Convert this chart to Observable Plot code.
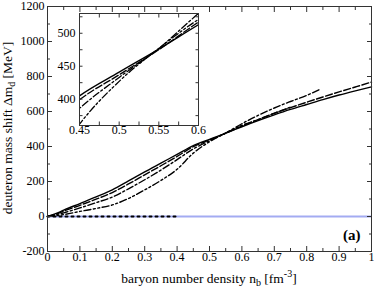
<!DOCTYPE html>
<html><head><meta charset="utf-8">
<script src="https://cdn.jsdelivr.net/npm/d3@7"></script>
<script src="https://cdn.jsdelivr.net/npm/@observablehq/plot@0.6"></script>
<style>
body{margin:0;background:#fff;}
#wrap{position:relative;width:374px;height:288px;}
#wrap svg{overflow:visible;}
#inset{position:absolute;left:50px;top:8px;}
</style></head><body><div id="wrap"><div id="main"></div><div id="inset"></div></div>
<script>
// ---- data ----
const nbSolid = [0,0.025,0.05,0.1,0.15,0.2,0.25,0.3,0.35,0.4,0.45,0.5,0.55,0.6,0.65,0.7,0.75,0.8,0.85,0.9,0.95,1.0];
const shiftSolid = [0,16,36,74,112,152,203,255,305,355,405,441,476,513,548,581,612,640,668,694,718,741];
const nbDashed = [0,0.025,0.05,0.1,0.15,0.2,0.25,0.3,0.35,0.4,0.45,0.5,0.55,0.6,0.65,0.7,0.75,0.8,0.85,0.9,0.95,1.0];
const shiftDashed = [0,13,31,64,99,137,186,238,290,343,399,437,475,517,554,590,622,653,683,712,740,768];
const nbDashDot = [0,0.025,0.05,0.1,0.15,0.2,0.25,0.3,0.35,0.4,0.45,0.5,0.55,0.6,0.65,0.7,0.75,0.8,0.84];
const shiftDashDot = [0,9,21,49,79,111,158,210,265,325,386,433,477,530,578,620,657,692,726];
const nbDashDotDot = [0,0.025,0.05,0.1,0.15,0.2,0.25,0.3,0.35,0.4,0.45,0.5,0.55,0.6,0.65,0.7,0.75];
const shiftDashDotDot = [0,4,11,29,46,66,103,152,206,270,362,427,477,521,553,590,625];
const nbDotted = [0,0.4];
const shiftDotted = [0,0];
const baseline = [0];

const xTicksMain = [0,0.1,0.2,0.3,0.4,0.5,0.6,0.7,0.8,0.9,1];
const xMinorMain = [0.05,0.15,0.25,0.35,0.45,0.55,0.65,0.75,0.85,0.95];
const yTicksMain = [-200,0,200,400,600,800,1000,1200];
const yMinorMain = [-100,100,300,500,700,900,1100];
const xTicksInset = [0.45,0.5,0.55,0.6];
const xMinorInset = [0.475,0.525,0.575];
const yTicksInset = [400,450,500];
const yMinorInset = [375,425,475,525];

const series = [
  {name:"solid", nb:nbSolid, v:shiftSolid, dash:null},
  {name:"dashed", nb:nbDashed, v:shiftDashed, dash:"7,2.5"},
  {name:"dashdot", nb:nbDashDot, v:shiftDashDot, dash:"7,2.5,2,2.5"},
  {name:"dashdotdot", nb:nbDashDotDot, v:shiftDashDotDot, dash:"7,2.5,2,2.5,2,2.5"}
];
const rows = s => s.nb.map((x,i)=>({x, y:s.v[i]}));
const fmt = d => String(+d.toFixed(3));
const FONT = "'Liberation Serif','Times New Roman',serif";
const frameColor = "#333";

function curveMarks(sw, clip){
  return series.map(s => Plot.line(rows(s), {x:"x", y:"y", stroke:"black", strokeWidth:sw,
    strokeDasharray:s.dash, curve:"monotone-x", clip}));
}
function tickAxes(xMaj, xMin, yMaj, yMin, lenMaj, lenMin){
  const o = {stroke:frameColor, fill:"none", label:null};
  return [
    Plot.axisX(xMaj, {...o, anchor:"bottom", tickSize:-lenMaj}),
    Plot.axisX(xMaj, {...o, anchor:"top", tickSize:-lenMaj}),
    Plot.axisX(xMin, {...o, anchor:"bottom", tickSize:-lenMin}),
    Plot.axisX(xMin, {...o, anchor:"top", tickSize:-lenMin}),
    Plot.axisY(yMaj, {...o, anchor:"left", tickSize:-lenMaj}),
    Plot.axisY(yMaj, {...o, anchor:"right", tickSize:-lenMaj}),
    Plot.axisY(yMin, {...o, anchor:"left", tickSize:-lenMin}),
    Plot.axisY(yMin, {...o, anchor:"right", tickSize:-lenMin})
  ];
}

const main = Plot.plot({
  width:374, height:288, marginLeft:47, marginRight:3, marginTop:6, marginBottom:37,
  style:{fontFamily:FONT, fontSize:"12px", background:"transparent", overflow:"visible", color:"black"},
  x:{domain:[0,1]}, y:{domain:[-200,1200]},
  marks:[
    Plot.ruleY(baseline, {stroke:"#a3abf2", strokeWidth:2}),
    Plot.line(nbDotted.map((x,i)=>({x,y:shiftDotted[i]})), {x:"x", y:"y", stroke:"black", strokeWidth:2, strokeDasharray:"2,4"}),
    ...curveMarks(1.4, false),
    ...tickAxes(xTicksMain, xMinorMain, yTicksMain, yMinorMain, 5, 3),
    Plot.axisX(xTicksMain, {anchor:"bottom", tickSize:0, tickPadding:1, tickFormat:fmt, label:null, fontSize:12}),
    Plot.axisY(yTicksMain, {anchor:"left", tickSize:0, tickPadding:3, tickFormat:fmt, label:null, fontSize:12}),
    Plot.frame({stroke:frameColor, strokeWidth:1}),
    Plot.text(["(a)"], {frameAnchor:"bottom-right", dx:-11, dy:-12, lineAnchor:"bottom", textAnchor:"end", fontWeight:"bold", fontSize:15})
  ]
});
document.getElementById("main").appendChild(main);

// axis titles with sub/superscripts
const svg = d3.select(main);
const xt = svg.append("text").attr("x", 209).attr("y", 283).attr("text-anchor","middle")
  .style("font-family", FONT).style("font-size","13.5px").attr("fill","black");
xt.append("tspan").text("baryon number density n");
xt.append("tspan").attr("dy", 3).style("font-size","10px").text("b");
xt.append("tspan").attr("dy", -3).text(" [fm");
xt.append("tspan").attr("dy", -6).style("font-size","10px").text("-3");
xt.append("tspan").attr("dy", 6).text("]");
const yt = svg.append("text").attr("transform","translate(12,128) rotate(-90)").attr("text-anchor","middle")
  .style("font-family", FONT).style("font-size","13.5px").attr("fill","black");
yt.append("tspan").text("deuteron mass shift Δm");
yt.append("tspan").attr("dy", 3).style("font-size","10px").text("d");
yt.append("tspan").attr("dy", -3).text(" [MeV]");

const inset = Plot.plot({
  width:155, height:135, marginLeft:29, marginRight:7, marginTop:5, marginBottom:18,
  style:{fontFamily:FONT, fontSize:"12px", background:"transparent", overflow:"visible", color:"black"},
  x:{domain:[0.45,0.6]}, y:{domain:[360,530]},
  marks:[
    Plot.frame({fill:"white", stroke:"none"}),
    ...curveMarks(1.3, true),
    ...tickAxes(xTicksInset, xMinorInset, yTicksInset, yMinorInset, 3.5, 3.5),
    Plot.axisX(xTicksInset, {anchor:"bottom", tickSize:0, tickPadding:0, tickFormat:fmt, label:null, fontSize:12}),
    Plot.axisY(yTicksInset, {anchor:"left", tickSize:0, tickPadding:4, tickFormat:fmt, label:null, fontSize:12}),
    Plot.frame({stroke:frameColor, strokeWidth:1})
  ]
});
document.getElementById("inset").appendChild(inset);
</script></body></html>
